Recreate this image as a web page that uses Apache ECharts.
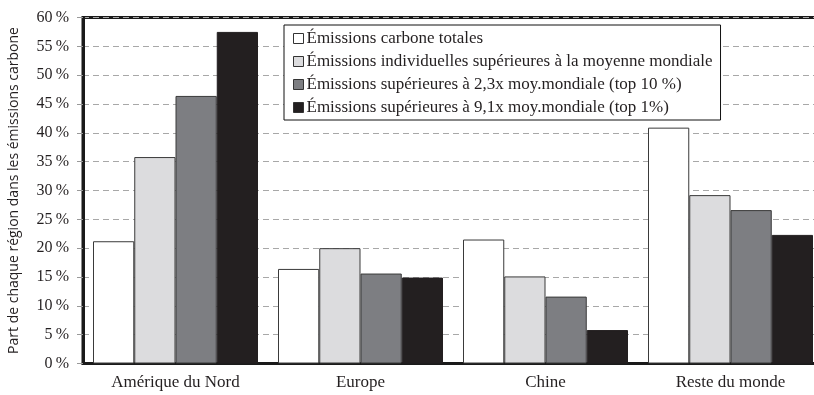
<!DOCTYPE html>
<html>
<head>
<meta charset="utf-8">
<script src="https://cdn.jsdelivr.net/npm/echarts@6/dist/echarts.min.js"></script>
<style>
  html, body { margin: 0; padding: 0; background: #fff; }
  #chart { width: 814px; height: 395px; }
</style>
</head>
<body>
<div id="chart"></div>
<script>
// Regions and each region's share (%) of carbon emissions, by emitter group
const regions = ['Amérique du Nord', 'Europe', 'Chine', 'Reste du monde'];
const seriesNames = [
  'Émissions carbone totales',
  'Émissions individuelles supérieures à la moyenne mondiale',
  'Émissions supérieures à 2,3x moy.mondiale (top 10 %)',
  'Émissions supérieures à 9,1x moy.mondiale (top 1%)'
];
const totalEmissions   = [21.2, 16.4, 21.5, 40.9];
const aboveAverage     = [35.8, 20.0, 15.1, 29.2];
const top10Emitters    = [46.4, 15.6, 11.6, 26.6];
const top1Emitters     = [57.5, 14.9, 5.8, 22.3];
const yTicks = [0, 5, 10, 15, 20, 25, 30, 35, 40, 45, 50, 55, 60];

const seriesValues = [totalEmissions, aboveAverage, top10Emitters, top1Emitters];
const fills = ['#ffffff', '#dcdcde', '#7d7e82', '#231f20'];
const borders = ['#3a3a3a', '#3a3a3a', '#3a3a3a', '#231f20'];

const serif = '"Liberation Serif", "DejaVu Serif", serif';

const chart = echarts.init(document.getElementById('chart'), null, { renderer: 'canvas' });

chart.setOption({
  animation: false,
  backgroundColor: '#ffffff',
  grid: {
    left: 83, top: 17.5, width: 740, height: 346,
    outerBoundsMode: 'none',
    containLabel: false,
    show: true, borderColor: '#1a1a1a', borderWidth: 3, backgroundColor: 'transparent'
  },
  legend: {
    orient: 'vertical',
    left: 284, top: 25,
    padding: [5, 8, 4, 9],
    itemGap: 6,
    itemWidth: 10, itemHeight: 10,
    icon: 'rect',
    backgroundColor: '#ffffff',
    borderColor: '#111',
    borderWidth: 1,
    borderRadius: 0,
    itemStyle: { borderColor: '#333', borderWidth: 1 },
    textStyle: { fontFamily: serif, fontSize: 17, color: '#231f20', lineHeight: 17, padding: [0, 0, 0, -2] },
    data: seriesNames
  },
  xAxis: {
    type: 'category',
    data: regions,
    axisLine: { lineStyle: { color: '#1a1a1a', width: 3 } },
    axisTick: { show: false },
    axisLabel: { fontFamily: serif, fontSize: 17, color: '#231f20', margin: 11 },
    splitLine: { show: false }
  },
  yAxis: {
    type: 'value',
    min: 0, max: 60, interval: 5,
    name: 'Part de chaque région dans les émissions carbone',
    nameLocation: 'middle',
    nameGap: 62,
    nameRotate: 90,
    nameTextStyle: { fontFamily: '"Open Sans", "DejaVu Sans", sans-serif', fontSize: 14, color: '#231f20' },
    axisLine: { show: true, lineStyle: { color: '#1a1a1a', width: 3 } },
    axisTick: { show: true, inside: false, length: 6, lineStyle: { color: '#999', width: 1 } },
    axisLabel: {
      fontFamily: serif, fontSize: 16, color: '#231f20', margin: 14,
      customValues: yTicks,
      formatter: v => v + '\u2009%'
    },
    splitLine: { show: true, lineStyle: { color: '#a8a8a8', width: 1, type: [6, 4] } }
  },
  series: seriesValues.map((vals, i) => ({
    name: seriesNames[i],
    type: 'bar',
    data: vals,
    barWidth: 41.25,
    barGap: '0%',
    itemStyle: { color: fills[i], borderColor: borders[i], borderWidth: 1 },
    z: 3
  }))
});
</script>
</body>
</html>
